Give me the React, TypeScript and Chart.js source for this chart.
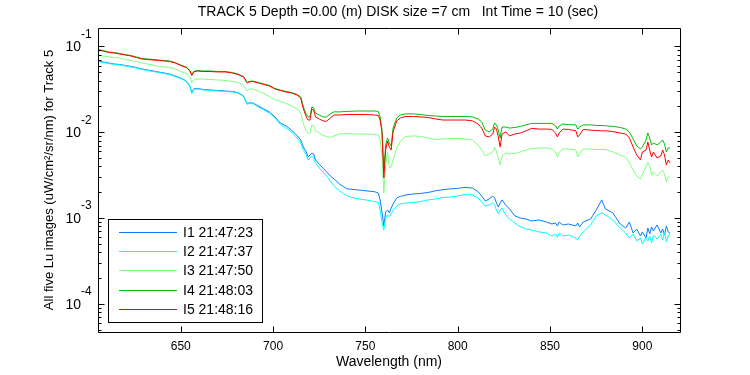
import React, { useEffect, useRef } from "react";
import { Chart, registerables } from "chart.js";

Chart.register(...registerables);

// Wavelength grid (nm)
const wavelengths = [
  605, 608, 611, 614, 617, 620, 623, 626, 629, 632,
  635, 638, 641, 644, 647, 650, 653, 655, 656, 657,
  659, 662, 666, 670, 674, 678, 681, 684, 686, 687,
  689, 692, 695, 698, 701, 704, 707, 710, 713, 715,
  716, 717, 718, 719, 720, 721, 722, 723, 725, 727,
  729, 731, 733, 736, 740, 745, 750, 755, 757, 758,
  759, 760, 761, 762, 763, 764, 765, 767, 769, 772,
  776, 780, 784, 788, 792, 796, 800, 804, 808, 811,
  813, 815, 817, 819, 820, 821, 822, 823, 824, 826,
  828, 831, 834, 837, 840, 844, 848, 851, 853, 854,
  855, 857, 860, 864, 865, 866, 868, 872, 875, 878,
  880, 884, 888, 891, 893, 895, 897, 899, 900, 902,
  903, 904, 905, 906, 908, 910, 911, 912, 913, 914,
  915,
];

const I1 = [
  0.0678, 0.0660, 0.0642, 0.0625, 0.0617, 0.0601, 0.0585, 0.0569, 0.0547, 0.0532,
  0.0518, 0.0505, 0.0491, 0.0478, 0.0453, 0.0430, 0.0396, 0.0347, 0.0287, 0.0320,
  0.0324, 0.0316, 0.0311, 0.0307, 0.0303, 0.0299, 0.0291, 0.0265, 0.0214, 0.0220,
  0.0220, 0.0203, 0.0187, 0.0173, 0.0151, 0.0128, 0.0119, 0.0106, 0.00918, 0.00813,
  0.00712, 0.00639, 0.00589, 0.00515, 0.00544, 0.00573, 0.00558, 0.00476, 0.00425, 0.00384,
  0.00345, 0.0031, 0.00286, 0.0025, 0.00219, 0.00214, 0.00208, 0.00203, 0.00196, 0.00163,
  0.00118, 0.000809, 0.00118, 0.00124, 0.00115, 0.00131, 0.00146, 0.00172, 0.00179, 0.00186,
  0.00191, 0.00194, 0.00199, 0.00208, 0.00214, 0.00219, 0.00222, 0.00228, 0.00224, 0.00203,
  0.00181, 0.00158, 0.00167, 0.00181, 0.00172, 0.0015, 0.00135, 0.0015, 0.00163, 0.00142,
  0.00128, 0.00106, 0.0010, 0.000976, 0.000925, 0.00095, 0.0009, 0.000853, 0.000877, 0.000809,
  0.0009, 0.000831, 0.000853, 0.000809, 0.000877, 0.000788, 0.0009, 0.000976, 0.00124, 0.00163,
  0.00128, 0.00115, 0.000853, 0.000767, 0.0009, 0.00067, 0.000746, 0.000618, 0.000689, 0.000586,
  0.000767, 0.000652, 0.000788, 0.000707, 0.000831, 0.00067, 0.000746, 0.000635, 0.000809, 0.000689,
  0.00067,
];

const I2 = [
  0.0669, 0.0651, 0.0633, 0.0617, 0.0609, 0.0593, 0.0577, 0.0561, 0.0540, 0.0525,
  0.0511, 0.0498, 0.0484, 0.0472, 0.0447, 0.0424, 0.0391, 0.0342, 0.0283, 0.0316,
  0.0320, 0.0312, 0.0307, 0.0303, 0.0299, 0.0295, 0.0287, 0.0261, 0.0211, 0.0217,
  0.0217, 0.0198, 0.0182, 0.0168, 0.0147, 0.0123, 0.0112, 0.0101, 0.00858, 0.0075,
  0.00656, 0.00589, 0.00544, 0.00476, 0.00502, 0.00529, 0.00502, 0.00439, 0.00384, 0.00345,
  0.0031, 0.0027, 0.00237, 0.00208, 0.00181, 0.00169, 0.00163, 0.00156, 0.00152, 0.00124,
  0.0009, 0.000727, 0.0010, 0.00109, 0.00103, 0.00112, 0.00124, 0.00138, 0.00146, 0.0015,
  0.00152, 0.00156, 0.00163, 0.00167, 0.00174, 0.00176, 0.00181, 0.00188, 0.00186, 0.00172,
  0.00154, 0.00138, 0.00142, 0.0015, 0.00142, 0.00124, 0.00112, 0.00124, 0.00131, 0.00109,
  0.000976, 0.000877, 0.000788, 0.000746, 0.000727, 0.000689, 0.00067, 0.000618, 0.000652, 0.0006,
  0.00067, 0.000618, 0.000635, 0.000586, 0.000555, 0.000618, 0.000689, 0.000831, 0.00106, 0.00115,
  0.00109, 0.00095, 0.000767, 0.00067, 0.000586, 0.000652, 0.000541, 0.000586, 0.000499, 0.0006,
  0.000541, 0.000618, 0.000512, 0.000635, 0.00057, 0.000652, 0.000555, 0.000689, 0.000527, 0.000618,
  0.000652,
];

const I3 = [
  0.0796, 0.0775, 0.0755, 0.0745, 0.0735, 0.0706, 0.0687, 0.0669, 0.0642, 0.0625,
  0.0609, 0.0585, 0.0577, 0.0569, 0.0547, 0.0511, 0.0485, 0.0441, 0.0376, 0.0407,
  0.0418, 0.0418, 0.0413, 0.0407, 0.0402, 0.0391, 0.0381, 0.0351, 0.0303, 0.0320,
  0.0320, 0.0303, 0.0283, 0.0262, 0.0241, 0.0229, 0.0217, 0.0203, 0.0187, 0.0168,
  0.0136, 0.0115, 0.0104, 0.00968, 0.00981, 0.0122, 0.0119, 0.0104, 0.00981, 0.00918,
  0.00894, 0.0087, 0.00907, 0.00955, 0.00968, 0.00955, 0.00955, 0.00943, 0.0093, 0.00813,
  0.00544, 0.00196, 0.00416, 0.00589, 0.00384, 0.00394, 0.00476, 0.00656, 0.00791, 0.00894,
  0.00907, 0.00894, 0.00858, 0.00824, 0.00835, 0.00847, 0.00847, 0.00835, 0.00813, 0.00712,
  0.00622, 0.00529, 0.00558, 0.00589, 0.00674, 0.00589, 0.00502, 0.00416, 0.00529, 0.00573,
  0.00558, 0.00565, 0.00589, 0.00622, 0.00647, 0.00656, 0.00656, 0.00639, 0.00589, 0.00515,
  0.00589, 0.00639, 0.00639, 0.00622, 0.00515, 0.00558, 0.00639, 0.00639, 0.0063, 0.0063,
  0.0063, 0.00589, 0.00544, 0.00515, 0.00439, 0.00364, 0.0031, 0.00286, 0.00326, 0.00394,
  0.00451, 0.00405, 0.00318, 0.00345, 0.0031, 0.00345, 0.00364, 0.00326, 0.00264, 0.00301,
  0.00301,
];

const I4 = [
  0.0922, 0.0898, 0.0862, 0.0851, 0.0829, 0.0806, 0.0785, 0.0755, 0.0724, 0.0715,
  0.0705, 0.0696, 0.0687, 0.0678, 0.0650, 0.0609, 0.0576, 0.0525, 0.0465, 0.0512,
  0.0525, 0.0518, 0.0518, 0.0512, 0.0512, 0.0497, 0.0478, 0.0447, 0.0381, 0.0391,
  0.0396, 0.0381, 0.0366, 0.0352, 0.0324, 0.0311, 0.0299, 0.0291, 0.0276, 0.0258,
  0.0214, 0.0182, 0.0164, 0.0151, 0.0151, 0.0197, 0.0192, 0.0168, 0.0159, 0.0151,
  0.0151, 0.0164, 0.0173, 0.0173, 0.0175, 0.0177, 0.0177, 0.0177, 0.0175, 0.0151,
  0.0106, 0.00364, 0.00712, 0.00858, 0.0075, 0.00692, 0.0112, 0.0147, 0.0159, 0.0164,
  0.0164, 0.0161, 0.0157, 0.0155, 0.0153, 0.0153, 0.0153, 0.0153, 0.0151, 0.0143,
  0.0132, 0.0106, 0.0101, 0.0109, 0.0128, 0.0122, 0.0106, 0.00858, 0.0115, 0.0115,
  0.0112, 0.0114, 0.0117, 0.0122, 0.0127, 0.0127, 0.0127, 0.0127, 0.0119, 0.0109,
  0.0119, 0.0125, 0.0123, 0.0122, 0.0109, 0.0115, 0.0122, 0.0122, 0.0120, 0.0120,
  0.0119, 0.0117, 0.0114, 0.0109, 0.0101, 0.00835, 0.00692, 0.00639, 0.00674, 0.00813,
  0.00981, 0.00858, 0.00712, 0.0075, 0.00712, 0.00771, 0.00813, 0.00731, 0.00589, 0.00656,
  0.00656,
];

const I5 = [
  0.0910, 0.0886, 0.0851, 0.0840, 0.0818, 0.0796, 0.0775, 0.0745, 0.0715, 0.0706,
  0.0696, 0.0687, 0.0678, 0.0669, 0.0642, 0.0601, 0.0569, 0.0518, 0.0459, 0.0505,
  0.0518, 0.0511, 0.0511, 0.0505, 0.0505, 0.0491, 0.0472, 0.0441, 0.0376, 0.0386,
  0.0391, 0.0376, 0.0361, 0.0347, 0.0320, 0.0307, 0.0295, 0.0287, 0.0272, 0.0251,
  0.0203, 0.0173, 0.0151, 0.0139, 0.0139, 0.0187, 0.0182, 0.0151, 0.0143, 0.0136,
  0.0134, 0.0147, 0.0159, 0.0159, 0.0161, 0.0161, 0.0161, 0.0159, 0.0157, 0.0139,
  0.0101, 0.00294, 0.00622, 0.00791, 0.00674, 0.00622, 0.0101, 0.0136, 0.0147, 0.0153,
  0.0153, 0.0151, 0.0149, 0.0143, 0.0139, 0.0139, 0.0139, 0.0139, 0.0136, 0.0125,
  0.0112, 0.00907, 0.00882, 0.00955, 0.0115, 0.0109, 0.00882, 0.00674, 0.00955, 0.0101,
  0.00907, 0.00955, 0.00981, 0.0104, 0.0111, 0.0109, 0.0109, 0.0108, 0.00981, 0.00882,
  0.00981, 0.0109, 0.0108, 0.0104, 0.00882, 0.0093, 0.0108, 0.0106, 0.0105, 0.0104,
  0.0104, 0.0102, 0.00981, 0.00955, 0.00858, 0.00674, 0.00544, 0.00476, 0.00589, 0.00622,
  0.00771, 0.00622, 0.00515, 0.00589, 0.00502, 0.00529, 0.00622, 0.00544, 0.00416, 0.00476,
  0.00439,
];

const seriesLabels = ["I1 21:47:23", "I2 21:47:37", "I3 21:47:50", "I4 21:48:03", "I5 21:48:16"];
const xTickValues = [650, 700, 750, 800, 850, 900];
const yDecadeExponents = [-4, -3, -2, -1];
const titleText = "TRACK 5 Depth =0.00 (m) DISK size =7 cm   Int Time = 10 (sec)";
const xTitle = "Wavelength (nm)";
const yTitle = "All five Lu images (uW/cm\u00B2/sr/nm) for Track 5";

const COLORS = ["#0a7cff", "#00ffff", "#80ff80", "#00c000", "#ff0000"];
const FONT = "'Liberation Sans', Arial, Helvetica, sans-serif";

export default function App() {
  const ref = useRef<HTMLCanvasElement | null>(null);

  useEffect(() => {
    document.body.style.margin = "0";
    const canvas = ref.current;
    if (!canvas) return;
    const series = [I1, I2, I3, I4, I5];
    const datasets = series.map((s, i) => ({
      label: seriesLabels[i],
      data: wavelengths.map((w, j) => ({ x: w, y: s[j] })),
      borderColor: COLORS[i],
      backgroundColor: COLORS[i],
      borderWidth: 1,
      pointRadius: 0,
      fill: false,
      tension: 0,
      order: 5 - i,
    }));

    const decor = {
      id: "decor",
      afterDatasetsDraw(chart: any) {
        const { ctx, chartArea, scales } = chart;
        const { left, right, top, bottom } = chartArea;
        const x = scales.x;
        const y = scales.y;
        ctx.save();
        ctx.strokeStyle = "#000";
        ctx.lineWidth = 1;
        const L = Math.round(left) + 0.5;
        const R = Math.round(right) + 0.5;
        const T = Math.round(top) + 0.5;
        const B = Math.round(bottom) + 0.5;
        ctx.beginPath();
        ctx.moveTo(L, T);
        ctx.lineTo(R, T);
        ctx.lineTo(R, B);
        ctx.lineTo(L, B);
        ctx.closePath();
        // x ticks
        for (const v of xTickValues) {
          const px = Math.round(x.getPixelForValue(v)) + 0.5;
          ctx.moveTo(px, B);
          ctx.lineTo(px, B - 6);
          ctx.moveTo(px, T);
          ctx.lineTo(px, T + 6);
        }
        // y ticks (log, major + minor)
        for (let e = -5; e <= 0; e++) {
          for (let k = 1; k <= 9; k++) {
            const v = k * Math.pow(10, e);
            const py = y.getPixelForValue(v);
            if (py < top - 0.5 || py > bottom + 0.5) continue;
            const p = Math.round(py) + 0.5;
            const len = k === 1 ? 6 : 3;
            ctx.moveTo(L, p);
            ctx.lineTo(L + len, p);
            ctx.moveTo(R, p);
            ctx.lineTo(R - len, p);
          }
        }
        ctx.stroke();

        // y tick labels 10^e
        ctx.fillStyle = "#000";
        for (const e of yDecadeExponents) {
          const py = y.getPixelForValue(Math.pow(10, e));
          ctx.font = `14px ${FONT}`;
          ctx.textAlign = "right";
          ctx.textBaseline = "middle";
          ctx.fillText("10", 81, py + 1);
          ctx.font = `12px ${FONT}`;
          ctx.textAlign = "left";
          ctx.fillText(String(e), 81, py - 12);
        }
        ctx.restore();
      },
      afterDraw(chart: any) {
        const { ctx } = chart;
        ctx.save();
        // title
        ctx.fillStyle = "#000";
        ctx.font = `14px ${FONT}`;
        ctx.textAlign = "center";
        ctx.textBaseline = "middle";
        ctx.fillText(titleText, 398, 12);
        // legend
        const bx = 108, by = 219, bw = 154, bh = 103;
        ctx.fillStyle = "#fff";
        ctx.fillRect(bx, by, bw, bh);
        ctx.strokeStyle = "#000";
        ctx.lineWidth = 1;
        ctx.strokeRect(bx + 0.5, by + 0.5, bw, bh);
        for (let i = 0; i < seriesLabels.length; i++) {
          const yy = Math.round(232 + i * 19.2) + 0.5;
          ctx.strokeStyle = COLORS[i];
          ctx.beginPath();
          ctx.moveTo(119, yy);
          ctx.lineTo(177, yy);
          ctx.stroke();
          ctx.fillStyle = "#000";
          ctx.font = `14px ${FONT}`;
          ctx.textAlign = "left";
          ctx.textBaseline = "middle";
          ctx.fillText(seriesLabels[i], 183, yy + 0.5);
        }
        ctx.restore();
      },
    };

    const chart = new Chart(canvas, {
      type: "line",
      data: { datasets },
      options: {
        responsive: false,
        animation: false,
        devicePixelRatio: 1,
        layout: { padding: { top: 28, right: 70, left: 0, bottom: 0 } },
        plugins: {
          legend: { display: false },
          tooltip: { enabled: false },
          title: { display: false },
        },
        scales: {
          x: {
            type: "linear",
            min: 605.2,
            max: 920.4,
            afterFit: (s: any) => {
              s.height = 43;
            },
            afterBuildTicks: (s: any) => {
              s.ticks = xTickValues.map((v) => ({ value: v }));
            },
            grid: { display: false, drawTicks: false },
            border: { display: false },
            ticks: {
              color: "#000",
              font: { family: FONT, size: 12 },
              padding: 7,
              maxRotation: 0,
              autoSkip: false,
            },
            title: {
              display: true,
              text: xTitle,
              color: "#000",
              font: { family: FONT, size: 14 },
              padding: { top: 4.6, bottom: 4.6 },
            },
          },
          y: {
            type: "logarithmic",
            min: 4.7e-5,
            max: 0.1643,
            afterFit: (s: any) => {
              s.width = 98;
            },
            grid: { display: false, drawTicks: false },
            border: { display: false },
            ticks: { display: false },
            title: {
              display: true,
              text: yTitle,
              color: "#000",
              font: { family: FONT, size: 13 },
              padding: { top: 42, bottom: 0 },
            },
          },
        },
      },
      plugins: [decor],
    } as any);

    return () => chart.destroy();
  }, []);

  return (
    <div style={{ width: 750, height: 375 }}>
      <canvas ref={ref} width={750} height={375} style={{ display: "block" }} />
    </div>
  );
}
